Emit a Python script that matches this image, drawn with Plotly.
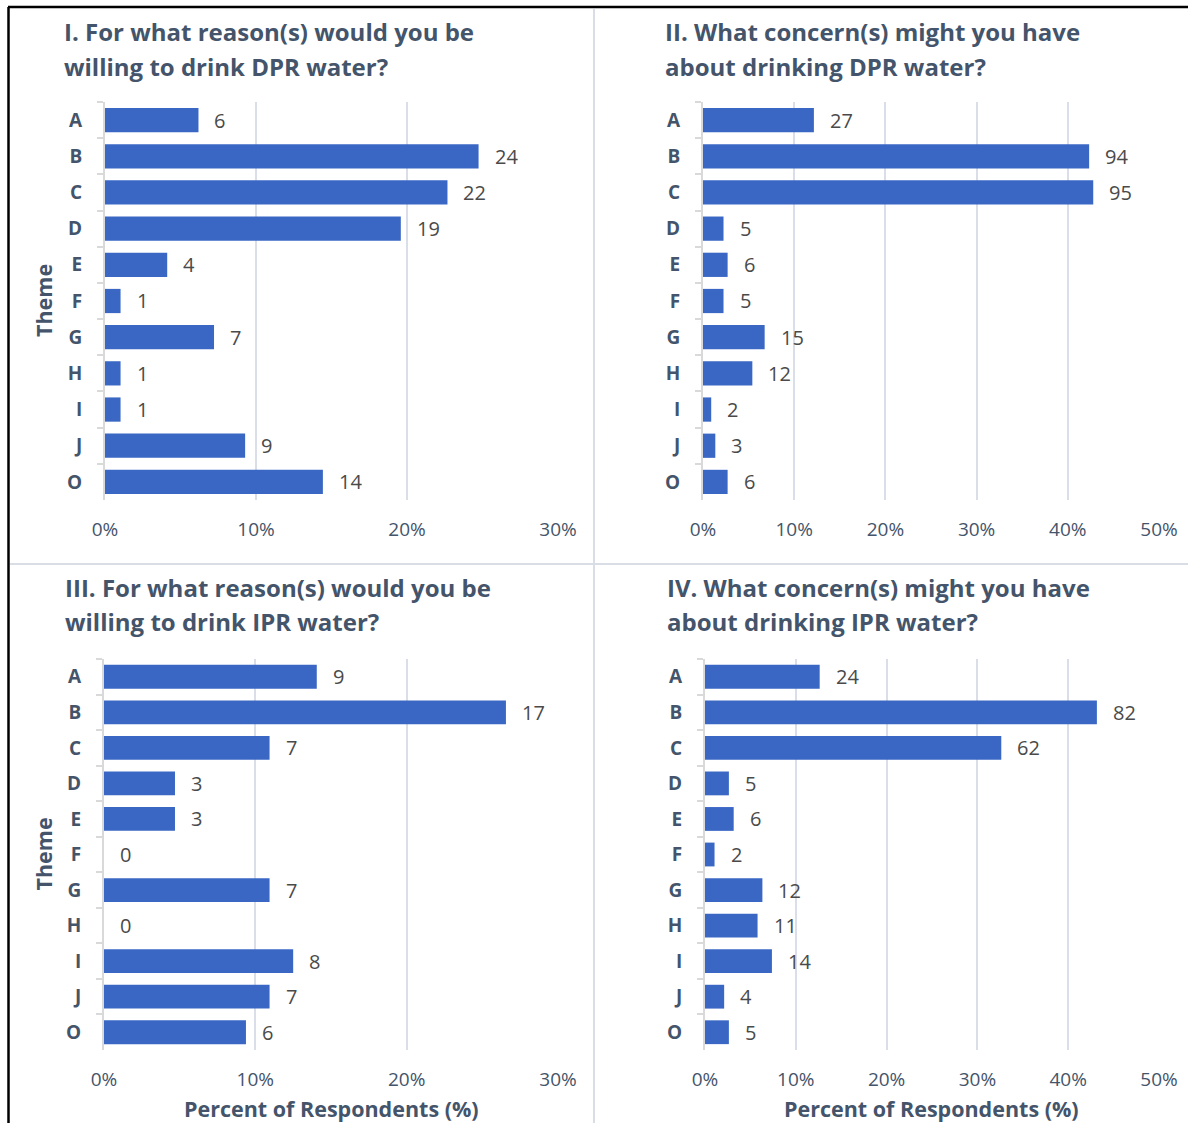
import plotly.graph_objects as go

W, H = 1188, 1123

themes = ["A", "B", "C", "D", "E", "F", "G", "H", "I", "J", "O"]

# Panel I: reasons to drink DPR water
dpr_reason_counts = [6, 24, 22, 19, 4, 1, 7, 1, 1, 9, 14]
dpr_reason_pct = [6.19, 24.74, 22.68, 19.59, 4.12, 1.03, 7.22, 1.03, 1.03, 9.28, 14.43]

# Panel II: concerns about DPR water
dpr_concern_counts = [27, 94, 95, 5, 6, 5, 15, 12, 2, 3, 6]
dpr_concern_pct = [12.16, 42.34, 42.79, 2.25, 2.70, 2.25, 6.76, 5.41, 0.90, 1.35, 2.70]

# Panel III: reasons to drink IPR water
ipr_reason_counts = [9, 17, 7, 3, 3, 0, 7, 0, 8, 7, 6]
ipr_reason_pct = [14.06, 26.56, 10.94, 4.69, 4.69, 0.0, 10.94, 0.0, 12.50, 10.94, 9.38]

# Panel IV: concerns about IPR water
ipr_concern_counts = [24, 82, 62, 5, 6, 2, 12, 11, 14, 4, 5]
ipr_concern_pct = [12.63, 43.16, 32.63, 2.63, 3.16, 1.05, 6.32, 5.79, 7.37, 2.11, 2.63]

titles = [
    ["I. For what reason(s) would you be", "willing to drink DPR water?"],
    ["II. What concern(s) might you have", "about drinking DPR water?"],
    ["III. For what reason(s) would you be", "willing to drink IPR water?"],
    ["IV. What concern(s) might you have", "about drinking IPR water?"],
]
x_max = [30, 50, 30, 50]

BAR = "#3A67C4"
TXT = "#44546A"
LBL = "#4A4A4A"
GRID = "#D9DEE8"
FONT = "Open Sans"

def px_x(v):
    return v / W

def px_y(v):
    return 1 - v / H

# panel geometry in pixels: (x0, x1, y0, y1, title_x, title line-1 centre y)
panels = [
    (105, 558, 102, 500, 62, 32),
    (703, 1159, 102, 500, 663, 32),
    (104, 558, 659, 1050, 63, 587),
    (705, 1159, 659, 1050, 665, 587),
]

data_sets = [
    (dpr_reason_pct, dpr_reason_counts),
    (dpr_concern_pct, dpr_concern_counts),
    (ipr_reason_pct, ipr_reason_counts),
    (ipr_concern_pct, ipr_concern_counts),
]

fig = go.Figure()
annotations = []
layout = {}

for i, ((pct, cnt), (x0, x1, y0, y1, tx, ty)) in enumerate(zip(data_sets, panels)):
    n = i + 1
    xa = "x" if n == 1 else f"x{n}"
    ya = "y" if n == 1 else f"y{n}"
    fig.add_trace(go.Bar(
        x=pct, y=themes, orientation="h",
        marker=dict(color=BAR, line=dict(width=0)),
        xaxis=xa, yaxis=ya, showlegend=False, hoverinfo="skip",
    ))
    layout[f"xaxis{'' if n == 1 else n}"] = dict(
        domain=[px_x(x0), px_x(x1)], anchor=ya,
        range=[0, x_max[i]], dtick=10, ticksuffix="%",
        showgrid=True, gridcolor=GRID, gridwidth=2,
        zeroline=False, showline=False, ticks="",
        tickfont=dict(family=FONT, size=19, color=TXT),
        ticklabelstandoff=16, fixedrange=True, automargin=False,
    )
    layout[f"yaxis{'' if n == 1 else n}"] = dict(
        domain=[px_y(y1), px_y(y0)], anchor=xa,
        autorange="reversed", type="category",
        showline=True, linecolor="#D9D9D9", linewidth=2,
        ticks="outside", tickson="boundaries", ticklen=6, tickcolor="#D9D9D9",
        tickwidth=2,
        tickfont=dict(family=FONT, size=19, color=TXT, weight="bold"),
        ticklabelstandoff=17, showgrid=False, fixedrange=True, automargin=False,
    )
    for t, p, c in zip(themes, pct, cnt):
        annotations.append(dict(
            x=p, y=t, xref=xa, yref=ya, text=str(c), showarrow=False,
            xanchor="left", yanchor="middle", xshift=14,
            font=dict(family=FONT, size=20, color=LBL),
        ))
    for k, line in enumerate(titles[i]):
        annotations.append(dict(
            x=px_x(tx), y=px_y(ty + 34 * k), xref="paper", yref="paper",
            text=line, showarrow=False, align="left",
            xanchor="left", yanchor="middle",
            font=dict(family=FONT, size=24, color=TXT, weight="bold"),
        ))

# axis titles
for yc in [(102 + 500) / 2, (659 + 1050) / 2]:
    annotations.append(dict(
        x=px_x(43), y=px_y(yc), xref="paper", yref="paper",
        text="Theme", textangle=-90, showarrow=False,
        xanchor="center", yanchor="middle",
        font=dict(family=FONT, size=21.5, color=TXT, weight="bold"),
    ))
for xc in [331, 931]:
    annotations.append(dict(
        x=px_x(xc), y=px_y(1108), xref="paper", yref="paper",
        text="Percent of Respondents (%)", showarrow=False,
        xanchor="center", yanchor="middle",
        font=dict(family=FONT, size=21.5, color=TXT, weight="bold"),
    ))

shapes = [
    dict(type="line", xref="paper", yref="paper", x0=px_x(8), x1=1, y0=px_y(7), y1=px_y(7),
         line=dict(color="#000000", width=2.5)),
    dict(type="line", xref="paper", yref="paper", x0=px_x(8.5), x1=px_x(8.5), y0=px_y(7), y1=0,
         line=dict(color="#000000", width=2.5)),
    dict(type="line", xref="paper", yref="paper", x0=px_x(594), x1=px_x(594), y0=px_y(9), y1=0,
         line=dict(color="#D9DEE6", width=2)),
    dict(type="line", xref="paper", yref="paper", x0=px_x(10), x1=1, y0=px_y(564), y1=px_y(564),
         line=dict(color="#D9DEE6", width=2)),
]

fig.update_layout(
    width=W, height=H, margin=dict(l=0, r=0, t=0, b=0, autoexpand=False),
    paper_bgcolor="white", plot_bgcolor="white", autosize=False,
    bargap=0.33, annotations=annotations, shapes=shapes,
    **layout,
)

fig.write_html(
    "out.html",
    config={"displayModeBar": False, "responsive": False},
    post_script="document.body.style.margin='0';document.body.style.overflow='hidden';",
)
